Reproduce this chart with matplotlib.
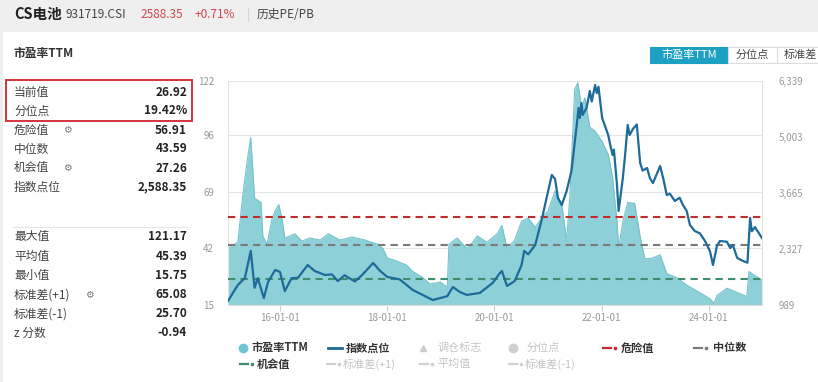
import matplotlib
matplotlib.use("Agg")
import matplotlib.pyplot as plt
import matplotlib.dates as mdates
import matplotlib.ticker as mticker
from matplotlib.lines import Line2D
from matplotlib.patches import Rectangle
import pandas as pd

# ---- data ----
pe_dates = ["2015-01-12", "2015-03-20", "2015-04-22", "2015-05-25", "2015-06-16", "2015-07-12",
            "2015-08-03", "2015-08-25", "2015-09-06", "2015-10-05", "2015-11-07", "2015-11-29",
            "2015-12-24", "2016-01-15", "2016-02-03", "2016-03-09", "2016-04-12", "2016-05-29",
            "2016-07-23", "2016-10-01", "2016-11-25", "2017-02-14", "2017-05-03", "2017-08-03",
            "2017-10-29", "2017-12-02", "2018-01-01", "2018-03-06", "2018-05-14", "2018-06-24",
            "2018-09-02", "2018-10-19", "2018-12-28", "2019-02-14", "2019-02-25", "2019-04-22",
            "2019-06-27", "2019-08-07", "2019-09-06", "2019-11-10", "2020-01-19", "2020-02-21",
            "2020-03-27", "2020-05-18", "2020-07-04", "2020-08-18", "2020-10-05", "2020-11-21",
            "2021-01-01", "2021-02-17", "2021-04-04", "2021-05-07", "2021-05-29", "2021-07-01",
            "2021-07-22", "2021-08-18", "2021-09-09", "2021-10-12", "2021-11-17", "2022-01-04",
            "2022-02-14", "2022-03-16", "2022-04-15", "2022-04-26", "2022-05-25", "2022-06-27",
            "2022-08-14", "2022-09-20", "2022-10-22", "2022-12-16", "2023-02-03", "2023-03-20",
            "2023-05-28", "2023-08-03", "2023-10-12", "2024-01-08", "2024-02-05", "2024-02-25",
            "2024-05-03", "2024-07-12", "2024-09-16", "2024-09-30", "2024-11-10", "2024-12-28"]
pe_values = [42, 45, 67, 85, 95, 66,
             65, 64, 48, 44, 56, 60,
             63, 56, 47, 48, 49, 45.5,
             47, 46, 49, 46, 47.5, 46,
             44, 42, 37.5, 36, 34, 31,
             28, 25, 26, 23.5, 44, 47,
             42, 45, 48, 45, 49, 53,
             42, 46, 55, 56.6, 52, 57,
             60, 69.5, 62.8, 46, 67, 118,
             121.17, 109, 114, 100, 98, 93,
             87, 76, 55, 42, 55, 64,
             63.5, 47.5, 37, 37.5, 39, 30,
             28, 24.5, 21.7, 18, 15.75, 19.5,
             23, 21, 19, 31, 29, 26.92]

idx_dates = ["2015-01-12", "2015-03-20", "2015-05-07", "2015-06-16", "2015-07-12", "2015-08-03",
             "2015-09-13", "2015-10-12", "2015-11-29", "2016-01-01", "2016-02-03", "2016-03-20",
             "2016-05-03", "2016-07-08", "2016-08-25", "2016-11-03", "2016-12-20", "2017-01-29",
             "2017-03-16", "2017-05-25", "2017-07-12", "2017-09-27", "2017-11-14", "2018-01-01",
             "2018-03-27", "2018-06-24", "2018-09-27", "2018-11-07", "2019-02-14", "2019-03-24",
             "2019-05-10", "2019-06-27", "2019-09-23", "2019-12-20", "2020-02-07", "2020-02-21",
             "2020-03-27", "2020-05-18", "2020-07-04", "2020-07-22", "2020-08-18", "2020-10-05",
             "2020-11-21", "2021-01-01", "2021-01-26", "2021-02-17", "2021-03-09", "2021-04-04",
             "2021-05-07", "2021-06-09", "2021-07-15", "2021-07-27", "2021-08-05", "2021-08-16",
             "2021-08-24", "2021-09-20", "2021-10-12", "2021-10-25", "2021-11-17", "2021-11-28",
             "2021-12-10", "2022-01-04", "2022-01-20", "2022-02-14", "2022-03-01", "2022-03-16",
             "2022-03-25", "2022-04-15", "2022-04-26", "2022-05-25", "2022-06-10", "2022-06-27",
             "2022-07-10", "2022-08-03", "2022-08-28", "2022-09-20", "2022-10-07", "2022-11-06",
             "2022-11-25", "2022-12-16", "2023-02-03", "2023-02-25", "2023-03-20", "2023-04-10",
             "2023-05-14", "2023-06-16", "2023-07-08", "2023-08-03", "2023-08-25", "2023-09-27",
             "2023-11-01", "2023-12-06", "2024-01-08", "2024-01-29", "2024-02-25", "2024-03-16",
             "2024-05-03", "2024-05-25", "2024-06-13", "2024-07-12", "2024-08-21", "2024-09-20",
             "2024-10-08", "2024-10-20", "2024-11-10", "2024-12-28"]
idx_values = [1085, 1467, 1634, 2280, 1400, 1630,
              1156, 1540, 1825, 1780, 1323, 1630,
              1640, 1944, 1800, 1706, 1720, 1560,
              1700, 1550, 1700, 1992, 1800, 1660,
              1600, 1347, 1180, 1108, 1200, 1419,
              1300, 1230, 1276, 1515, 1750, 1801,
              1443, 1560, 1944, 2280, 2200, 2422,
              3067, 3712, 4094, 4000, 3545, 3378,
              3712, 4190, 5289, 5695, 5456, 5814,
              5528, 5700, 6100, 5850, 6243, 6050,
              6200, 5456, 5300, 5050, 4800, 4572,
              4700, 3855, 3234, 4022, 4600, 5289,
              5050, 5200, 5300, 4380, 4200, 4261,
              4022, 3900, 4309, 4000, 3616, 3650,
              3473, 3550, 3380, 3234, 2900, 2756,
              2700, 2517, 2280, 1944, 2400, 2517,
              2500, 2350, 2420, 2112, 2040, 2000,
              3067, 2750, 2850, 2588.35]

stat_labels_top = ["当前值", "分位点", "危险值", "中位数", "机会值", "指数点位"]
stat_values_top = ["26.92", "19.42%", "56.91", "43.59", "27.26", "2,588.35"]
stat_labels_bottom = ["最大值", "平均值", "最小值", "标准差(+1)", "标准差(-1)", "z 分数"]
stat_values_bottom = ["121.17", "45.39", "15.75", "65.08", "25.70", "-0.94"]

danger, median, chance = 56.91, 43.59, 27.26
pe_ticks = [15, 42, 69, 96, 122]
idx_ticks = [989, 2327, 3665, 5003, 6339]

plt.rcParams['font.family'] = ['Noto Sans CJK SC', 'DejaVu Sans']

W, H = 818, 382
def fx(x):
    return x / W
def fy(y):
    return 1 - y / H

fig = plt.figure(figsize=(W / 100, H / 100), dpi=100)
fig.patch.set_facecolor('#efefef')
fig.add_artist(Rectangle((fx(3), 0), 1, fy(32), transform=fig.transFigure,
                         facecolor='white', edgecolor='none', zorder=-5))

# header
fig.text(fx(14), fy(14), "CS电池", fontsize=10.5, fontweight='bold', color='#222', va='center')
fig.text(fx(65), fy(14), "931719.CSI", fontsize=8.5, color='#444', va='center')
fig.text(fx(140), fy(14), "2588.35", fontsize=8.5, color='#d0454c', va='center')
fig.text(fx(195), fy(14), "+0.71%", fontsize=8.5, color='#d0454c', va='center')
fig.add_artist(Line2D([fx(248), fx(248)], [fy(8), fy(21)], color='#d6d6d6', lw=0.8, transform=fig.transFigure))
fig.text(fx(257), fy(14), "历史PE/PB", fontsize=8.5, color='#444', va='center')
fig.text(fx(14), fy(53), "市盈率TTM", fontsize=8.5, fontweight='bold', color='#333', va='center')

# tabs
fig.add_artist(Rectangle((fx(650), fy(63)), fx(78), 16 / H, transform=fig.transFigure,
                         facecolor='#1ea0c3', edgecolor='#1ea0c3', lw=0.8))
fig.text(fx(689), fy(55), "市盈率TTM", fontsize=8, color='white', ha='center', va='center')
fig.add_artist(Rectangle((fx(728), fy(63)), fx(49), 16 / H, transform=fig.transFigure,
                         facecolor='white', edgecolor='#dcdcdc', lw=0.8))
fig.text(fx(752), fy(55), "分位点", fontsize=8, color='#444', ha='center', va='center')
fig.add_artist(Rectangle((fx(777), fy(63)), fx(50), 16 / H, transform=fig.transFigure,
                         facecolor='white', edgecolor='#dcdcdc', lw=0.8))
fig.text(fx(784), fy(55), "标准差", fontsize=8, color='#444', ha='left', va='center')

# left statistics
for i, (lab, val) in enumerate(zip(stat_labels_top, stat_values_top)):
    y = 92 + i * 19
    fig.text(fx(14), fy(y), lab, fontsize=8.5, color='#444', va='center')
    fig.text(fx(187), fy(y), val, fontsize=8.5, fontweight='bold', color='#222', ha='right', va='center')
for i, (lab, val) in enumerate(zip(stat_labels_bottom, stat_values_bottom)):
    y = 237 + i * 19.2
    fig.text(fx(14), fy(y), lab, fontsize=8.5, color='#444', va='center')
    fig.text(fx(187), fy(y), val, fontsize=8.5, fontweight='bold', color='#222', ha='right', va='center')
for gx, gy in [(63, 130), (63, 168), (85, 295)]:
    fig.text(fx(gx), fy(gy), "⚙", family='DejaVu Sans', fontsize=7, color='#777', va='center')
fig.add_artist(Rectangle((fx(6), fy(121)), fx(186), 41 / H, transform=fig.transFigure,
                         facecolor='none', edgecolor='#d2343c', lw=1.4))
fig.add_artist(Line2D([fx(13), fx(187)], [fy(227), fy(227)], color='#e6e6e6', lw=0.8,
                      transform=fig.transFigure))

# chart
pe_d = pd.to_datetime(pe_dates)
idx_d = pd.to_datetime(idx_dates)
ax = fig.add_axes([fx(228), fy(305), fx(762) - fx(228), (305 - 81) / H])
ax.fill_between(pe_d, pe_values, 15, color='#8dd0d7', lw=0, zorder=2)
ax.plot(pe_d, pe_values, color='#74c3cc', lw=0.8, zorder=2)
ax.axhline(danger, color='#c22b2b', lw=1.5, ls=(0, (3.5, 2.5)), zorder=3)
ax.axhline(median, color='#7a7a7a', lw=1.5, ls=(0, (3.5, 2.5)), zorder=3)
ax.axhline(chance, color='#3f8d6d', lw=1.5, ls=(0, (3.5, 2.5)), zorder=3)
ax.set_ylim(15, 122)
ax.set_yticks(pe_ticks)
ax.set_xlim(pe_d[0], pe_d[-1])
ax.grid(axis='y', color='#e6e6e6', lw=0.8, zorder=0)
ax.set_axisbelow(True)
ax.xaxis.set_major_locator(mdates.YearLocator(2, month=1, day=1))
ax.xaxis.set_major_formatter(mdates.DateFormatter('%y-%m-%d'))
ax.tick_params(axis='y', length=0, labelsize=7, colors='#999999', pad=10)
ax.tick_params(axis='x', length=4, color='#cccccc', labelsize=7, labelcolor='#999999', pad=1.5)
for s in ['left', 'right']:
    ax.spines[s].set_color('#e3e3e3')
ax.spines['top'].set_visible(False)
ax.spines['bottom'].set_color('#dddddd')

ax2 = ax.twinx()
ax2.plot(idx_d, idx_values, color='#1e6a99', lw=1.6, zorder=4)
ax2.set_ylim(989, 6339)
ax2.set_yticks(idx_ticks)
ax2.yaxis.set_major_formatter(mticker.FuncFormatter(lambda v, p: f"{v:,.0f}"))
ax2.tick_params(axis='y', length=0, labelsize=7, colors='#999999', pad=12)
for s in ax2.spines.values():
    s.set_visible(False)

# legend (drawn by hand to follow the page layout)
def leg_dash(x, y, color):
    fig.add_artist(Line2D([fx(x), fx(x + 8)], [fy(y), fy(y)], color=color, lw=1.6,
                          transform=fig.transFigure))
    fig.add_artist(Line2D([fx(x + 12)], [fy(y)], marker='o', ms=1.6, color=color, lw=0,
                          transform=fig.transFigure))

r1, r2 = 348, 364
fig.add_artist(Line2D([fx(243)], [fy(r1)], marker='o', ms=6, color='#6fc6cf', lw=0,
                      transform=fig.transFigure))
fig.text(fx(252), fy(r1), "市盈率TTM", fontsize=8, fontweight='bold', color='#333', va='center')
fig.add_artist(Line2D([fx(328), fx(342)], [fy(r1), fy(r1)], color='#1e6a99', lw=2,
                      transform=fig.transFigure))
fig.text(fx(346), fy(r1), "指数点位", fontsize=8, fontweight='bold', color='#333', va='center')
fig.add_artist(Line2D([fx(423)], [fy(r1)], marker='^', ms=4.5, color='#cfcfcf', lw=0,
                      transform=fig.transFigure))
fig.text(fx(437), fy(r1), "调仓标志", fontsize=8, color='#c4c4c4', va='center')
fig.add_artist(Line2D([fx(513)], [fy(r1)], marker='o', ms=6, color='#cfcfcf', lw=0,
                      transform=fig.transFigure))
fig.text(fx(527), fy(r1), "分位点", fontsize=8, color='#c4c4c4', va='center')
leg_dash(603, r1, '#c22b2b')
fig.text(fx(621), fy(r1), "危险值", fontsize=8, fontweight='bold', color='#333', va='center')
leg_dash(694, r1, '#7a7a7a')
fig.text(fx(713), fy(r1), "中位数", fontsize=8, fontweight='bold', color='#333', va='center')
leg_dash(240, r2, '#3f8d6d')
fig.text(fx(257), fy(r2), "机会值", fontsize=8, fontweight='bold', color='#333', va='center')
leg_dash(327, r2, '#d0d0d0')
fig.text(fx(343), fy(r2), "标准差(+1)", fontsize=8, color='#c4c4c4', va='center')
leg_dash(420, r2, '#d0d0d0')
fig.text(fx(437), fy(r2), "平均值", fontsize=8, color='#c4c4c4', va='center')
leg_dash(509, r2, '#d0d0d0')
fig.text(fx(525), fy(r2), "标准差(-1)", fontsize=8, color='#c4c4c4', va='center')

fig.savefig("out.png", dpi=100)
